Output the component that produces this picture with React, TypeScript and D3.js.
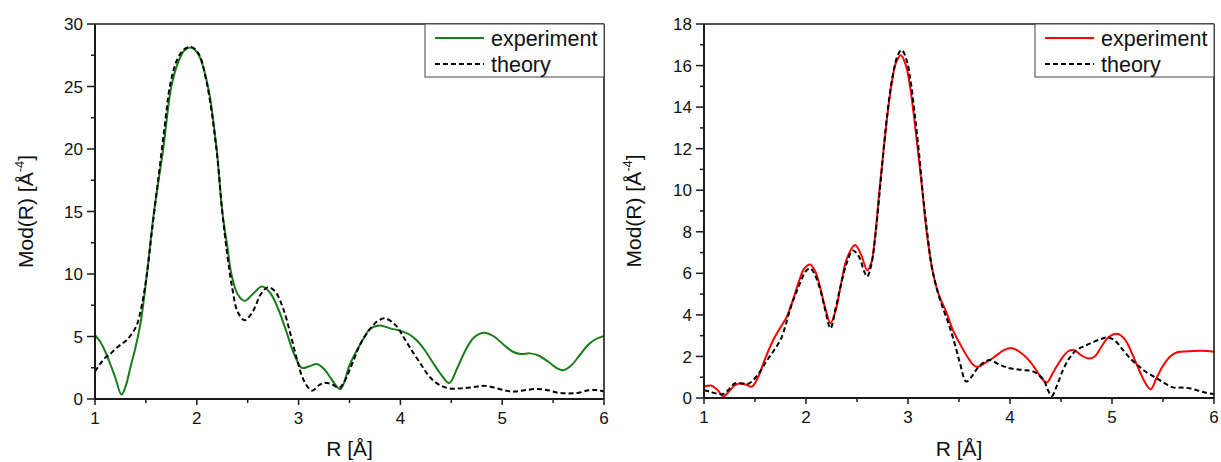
import React from "react";
import * as d3 from "d3";

// ---------- data ----------
const leftExperiment: [number, number][] = [
  [1.0, 5.1], [1.05, 4.6], [1.1, 3.8], [1.15, 2.8], [1.2, 1.7], [1.26, 0.35], [1.3, 1.0], [1.35, 2.6],
  [1.4, 4.2], [1.45, 6.2], [1.51, 10], [1.58, 15], [1.67, 20], [1.75, 25], [1.82, 27.0], [1.88, 27.9],
  [1.95, 28.1], [2.02, 27.5], [2.11, 25], [2.195, 20], [2.25, 15], [2.3, 12.2], [2.34, 10], [2.4, 8.4],
  [2.47, 7.85], [2.55, 8.4], [2.64, 9.0], [2.72, 8.5], [2.8, 7.2], [2.88, 5.4], [2.95, 3.7], [3.03, 2.5],
  [3.1, 2.6], [3.18, 2.8], [3.25, 2.4], [3.33, 1.5], [3.41, 0.78], [3.5, 2.7], [3.56, 3.7], [3.6, 4.3],
  [3.65, 5.0], [3.7, 5.6], [3.8, 5.88], [3.9, 5.65], [4.0, 5.45], [4.08, 5.2], [4.16, 4.7], [4.24, 3.9],
  [4.32, 2.9], [4.4, 1.95], [4.48, 1.28], [4.56, 2.5], [4.64, 3.9], [4.72, 4.9], [4.82, 5.3], [4.92, 5.0],
  [5.02, 4.3], [5.1, 3.8], [5.18, 3.6], [5.27, 3.65], [5.35, 3.5], [5.45, 3.0], [5.53, 2.5], [5.6, 2.3],
  [5.68, 2.7], [5.76, 3.5], [5.84, 4.3], [5.92, 4.8], [6.0, 5.05],
];

const leftTheory: [number, number][] = [
  [1.0, 2.2], [1.05, 2.8], [1.1, 3.3], [1.15, 3.6], [1.2, 4.0], [1.26, 4.4], [1.31, 4.7], [1.36, 5.2],
  [1.41, 5.9], [1.46, 7.5], [1.51, 10], [1.56, 13.5], [1.62, 17.5], [1.68, 21.5], [1.74, 25.2], [1.81, 27.2],
  [1.88, 28.0], [1.95, 28.15], [2.02, 27.6], [2.1, 25.2], [2.19, 20.2], [2.25, 15], [2.3, 11.5], [2.35, 8.8],
  [2.4, 7.0], [2.47, 6.3], [2.55, 7.0], [2.63, 8.4], [2.7, 8.95], [2.77, 8.6], [2.85, 7.2], [2.92, 5.2],
  [2.98, 3.3], [3.05, 1.5], [3.13, 0.67], [3.2, 1.1], [3.25, 1.3], [3.32, 1.2], [3.4, 0.9], [3.44, 1.25],
  [3.54, 3.1], [3.6, 4.3], [3.67, 5.25], [3.77, 6.2], [3.85, 6.45], [3.96, 5.85], [4.02, 5.1], [4.08, 4.3],
  [4.13, 3.65], [4.2, 2.8], [4.26, 2.05], [4.32, 1.5], [4.39, 1.1], [4.48, 0.85], [4.6, 0.85], [4.72, 0.95],
  [4.83, 1.05], [4.95, 0.85], [5.05, 0.65], [5.13, 0.6], [5.22, 0.7], [5.34, 0.8], [5.45, 0.7], [5.55, 0.5],
  [5.64, 0.45], [5.75, 0.5], [5.85, 0.7], [5.93, 0.72], [6.0, 0.6],
];

const rightExperiment: [number, number][] = [
  [1.0, 0.54], [1.07, 0.6], [1.13, 0.4], [1.19, 0.08], [1.25, 0.35], [1.3, 0.6], [1.35, 0.7], [1.41, 0.65],
  [1.47, 0.55], [1.53, 1.0], [1.6, 1.9], [1.68, 2.8], [1.75, 3.4], [1.81, 3.9], [1.87, 4.7], [1.93, 5.6],
  [1.98, 6.2], [2.04, 6.42], [2.09, 6.1], [2.14, 5.3], [2.19, 4.3], [2.24, 3.6], [2.29, 4.2], [2.34, 5.4],
  [2.4, 6.7], [2.48, 7.36], [2.54, 6.9], [2.6, 6.15], [2.64, 6.5], [2.68, 7.9], [2.72, 10.0], [2.76, 11.9],
  [2.8, 13.7], [2.84, 15.15], [2.88, 16.1], [2.93, 16.5], [2.98, 16.0], [3.02, 15.0], [3.06, 13.5], [3.1, 11.8],
  [3.14, 10.0], [3.18, 8.1], [3.22, 6.7], [3.26, 5.7], [3.3, 5.0], [3.38, 4.07], [3.44, 3.27], [3.51, 2.6],
  [3.58, 2.0], [3.64, 1.6], [3.68, 1.5], [3.76, 1.7], [3.84, 1.95], [3.94, 2.3], [4.02, 2.4], [4.1, 2.2],
  [4.18, 1.85], [4.25, 1.4], [4.31, 0.95], [4.36, 0.75], [4.42, 1.2], [4.5, 1.85], [4.57, 2.25], [4.63, 2.3],
  [4.7, 2.05], [4.77, 1.9], [4.83, 2.0], [4.9, 2.5], [4.97, 2.95], [5.06, 3.08], [5.13, 2.8], [5.2, 2.1],
  [5.27, 1.3], [5.33, 0.7], [5.38, 0.42], [5.44, 1.0], [5.5, 1.55], [5.57, 2.0], [5.64, 2.2], [5.75, 2.25],
  [5.88, 2.27], [6.0, 2.22],
];

const rightTheory: [number, number][] = [
  [1.0, 0.38], [1.06, 0.3], [1.12, 0.22], [1.19, 0.2], [1.25, 0.45], [1.3, 0.7], [1.38, 0.7], [1.44, 0.7],
  [1.48, 0.85], [1.54, 1.2], [1.61, 1.75], [1.68, 2.25], [1.75, 2.8], [1.8, 3.5], [1.84, 4.2], [1.89, 4.9],
  [1.94, 5.5], [1.99, 6.05], [2.04, 6.25], [2.09, 5.9], [2.14, 5.2], [2.19, 4.2], [2.24, 3.35], [2.29, 4.3],
  [2.34, 5.4], [2.4, 6.5], [2.46, 7.1], [2.52, 6.8], [2.57, 6.1], [2.6, 5.84], [2.64, 6.4], [2.68, 7.8],
  [2.72, 9.8], [2.76, 11.9], [2.8, 13.8], [2.85, 15.5], [2.9, 16.5], [2.94, 16.75], [2.99, 16.2], [3.03, 15.1],
  [3.07, 13.5], [3.11, 11.7], [3.15, 9.6], [3.19, 7.9], [3.23, 6.4], [3.28, 5.3], [3.33, 4.5], [3.41, 3.4],
  [3.47, 2.4], [3.51, 1.67], [3.57, 0.79], [3.62, 1.0], [3.68, 1.43], [3.74, 1.7], [3.8, 1.83], [3.9, 1.6],
  [4.0, 1.43], [4.12, 1.35], [4.23, 1.27], [4.33, 0.87], [4.37, 0.4], [4.41, 0.1], [4.46, 0.6], [4.52, 1.35],
  [4.58, 1.9], [4.65, 2.3], [4.73, 2.5], [4.82, 2.7], [4.9, 2.85], [4.96, 2.92], [5.03, 2.75], [5.11, 2.3],
  [5.19, 1.85], [5.27, 1.5], [5.35, 1.2], [5.44, 0.95], [5.52, 0.7], [5.6, 0.51], [5.68, 0.5], [5.76, 0.47],
  [5.85, 0.35], [5.92, 0.25], [6.0, 0.18],
];

const xTicks = [1, 2, 3, 4, 5, 6];
const xMinorTicks = [1.5, 2.5, 3.5, 4.5, 5.5];
const leftYTicks = [0, 5, 10, 15, 20, 25, 30];
const leftYMinor = [2.5, 7.5, 12.5, 17.5, 22.5, 27.5];
const rightYTicks = [0, 2, 4, 6, 8, 10, 12, 14, 16, 18];
const rightYMinor = [1, 3, 5, 7, 9, 11, 13, 15, 17];
const seriesNames = ["experiment", "theory"];

const FONT = "'Liberation Sans', Arial, sans-serif";
const AX = "#1a1a1a";

type PanelProps = {
  x0: number; x1: number; y0: number; y1: number;
  yMax: number; yTicks: number[]; yMinor: number[];
  exp: [number, number][]; theo: [number, number][];
  color: string; ylabelX: number;
};

function Panel(p: PanelProps) {
  const x = d3.scaleLinear().domain([1, 6]).range([p.x0, p.x1]);
  const y = d3.scaleLinear().domain([0, p.yMax]).range([p.y1, p.y0]);
  const line = d3.line<[number, number]>()
    .x((d) => x(d[0]))
    .y((d) => y(d[1]))
    .curve(d3.curveCatmullRom.alpha(0.5));
  const clipId = `clip-${p.x0}`;
  const lx = p.x1 - 179;
  const cy = (p.y0 + p.y1) / 2;
  return (
    <g>
      <defs>
        <clipPath id={clipId}>
          <rect x={p.x0} y={p.y0} width={p.x1 - p.x0} height={p.y1 - p.y0} />
        </clipPath>
      </defs>
      <g clipPath={`url(#${clipId})`}>
        <path d={line(p.exp) || ""} fill="none" stroke={p.color} strokeWidth={2} />
        <path d={line(p.theo) || ""} fill="none" stroke="#000" strokeWidth={2} strokeDasharray="5,3" />
      </g>
      {/* frame */}
      <line x1={p.x0} x2={p.x1} y1={p.y0} y2={p.y0} stroke={AX} strokeWidth={1.6} />
      <line x1={p.x1} x2={p.x1} y1={p.y0} y2={p.y1} stroke={AX} strokeWidth={1.6} />
      <line x1={p.x0} x2={p.x0} y1={p.y0} y2={p.y1} stroke={AX} strokeWidth={2} />
      <line x1={p.x0} x2={p.x1} y1={p.y1} y2={p.y1} stroke={AX} strokeWidth={2} />
      {/* y ticks */}
      {p.yTicks.map((t) => (
        <g key={`yt${t}`}>
          <line x1={p.x0 - 8} x2={p.x0} y1={y(t)} y2={y(t)} stroke={AX} strokeWidth={1.5} />
          <text x={p.x0 - 12} y={y(t)} dy="0.36em" textAnchor="end" fontSize={17} fontFamily={FONT} fill="#111">{t}</text>
        </g>
      ))}
      {p.yMinor.map((t) => (
        <line key={`ym${t}`} x1={p.x0 - 4} x2={p.x0} y1={y(t)} y2={y(t)} stroke={AX} strokeWidth={1.5} />
      ))}
      {/* x ticks */}
      {xTicks.map((t) => (
        <g key={`xt${t}`}>
          <line x1={x(t)} x2={x(t)} y1={p.y1} y2={p.y1 + 6} stroke={AX} strokeWidth={1.5} />
          <text x={x(t)} y={p.y1 + 25} textAnchor="middle" fontSize={17} fontFamily={FONT} fill="#111">{t}</text>
        </g>
      ))}
      {xMinorTicks.map((t) => (
        <line key={`xm${t}`} x1={x(t)} x2={x(t)} y1={p.y1} y2={p.y1 + 4} stroke={AX} strokeWidth={1.5} />
      ))}
      {/* axis labels */}
      <text x={(p.x0 + p.x1) / 2} y={456} textAnchor="middle" fontSize={21} fontFamily={FONT} fill="#111">R [Å]</text>
      <text transform={`translate(${p.ylabelX},${cy}) rotate(-90)`} textAnchor="middle" fontSize={21} fontFamily={FONT} fill="#111">
        Mod(R) [Å<tspan fontSize={13} dy={-9}>-4</tspan><tspan dy={9}>]</tspan>
      </text>
      {/* legend */}
      <rect x={lx} y={p.y0} width={179} height={53} fill="#fff" stroke="#444" strokeWidth={1} />
      <line x1={lx + 10} x2={lx + 59} y1={p.y0 + 14} y2={p.y0 + 14} stroke={p.color} strokeWidth={2} />
      <line x1={lx + 10} x2={lx + 59} y1={p.y0 + 40} y2={p.y0 + 40} stroke="#000" strokeWidth={2} strokeDasharray="5,3" />
      <text x={lx + 66} y={p.y0 + 22} fontSize={21.5} fontFamily={FONT} fill="#111">{seriesNames[0]}</text>
      <text x={lx + 66} y={p.y0 + 48} fontSize={21.5} fontFamily={FONT} fill="#111">{seriesNames[1]}</text>
    </g>
  );
}

export default function App() {
  return (
    <svg width={1221} height={462} style={{ position: "absolute", left: 0, top: 0, background: "#fff" }}>
      <rect x={0} y={0} width={1221} height={462} fill="#fff" />
      <Panel x0={95} x1={604} y0={24} y1={399} yMax={30} yTicks={leftYTicks} yMinor={leftYMinor}
        exp={leftExperiment} theo={leftTheory} color="#1a7d1a" ylabelX={33} />
      <Panel x0={704} x1={1214} y0={24} y1={398} yMax={18} yTicks={rightYTicks} yMinor={rightYMinor}
        exp={rightExperiment} theo={rightTheory} color="#ff0000" ylabelX={641} />
    </svg>
  );
}
